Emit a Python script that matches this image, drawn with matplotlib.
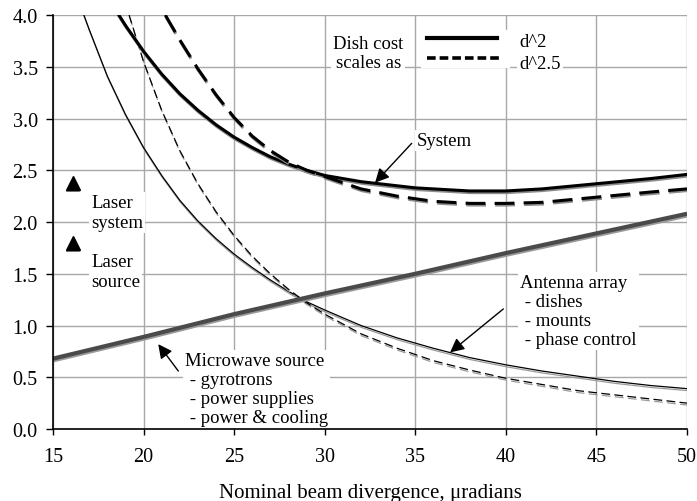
import numpy as np
import matplotlib
matplotlib.use('Agg')
import matplotlib.pyplot as plt
import matplotlib.patheffects as pe

plt.rcParams['font.family'] = ['Liberation Serif', 'DejaVu Serif']
plt.rcParams['font.size'] = 13.5

# ---- data ----
# microwave source cost
mw_x = [15, 20, 25, 30, 35, 40, 45, 50]
mw_y = [0.68, 0.89, 1.11, 1.31, 1.50, 1.70, 1.89, 2.08]

# antenna array, dish cost ~ d^2
ant2_x = [16.6, 17, 18, 19, 20, 21, 22, 23, 24, 25, 26, 27, 28, 29, 30,
          32, 34, 36, 38, 40, 42, 44, 46, 48, 50]
ant2_y = [4.05, 3.86, 3.41, 3.04, 2.72, 2.45, 2.21, 2.01, 1.84, 1.69, 1.56, 1.44, 1.33, 1.23, 1.15,
          1.00, 0.88, 0.78, 0.69, 0.62, 0.56, 0.51, 0.46, 0.42, 0.39]

# antenna array, dish cost ~ d^2.5
ant25_x = [19.2, 20, 21, 22, 23, 24, 25, 26, 27, 28, 29, 30,
           32, 34, 36, 38, 40, 42, 44, 46, 48, 50]
ant25_y = [4.0, 3.55, 3.08, 2.69, 2.37, 2.10, 1.87, 1.67, 1.50, 1.35, 1.22, 1.11,
           0.92, 0.78, 0.66, 0.57, 0.49, 0.43, 0.37, 0.33, 0.29, 0.25]

# system total, d^2
sys2_x = [18.6, 19, 20, 21, 22, 23, 24, 25, 26, 27, 28, 29, 30,
          32, 35, 38, 40, 42, 45, 48, 50]
sys2_y = [4.01, 3.90, 3.65, 3.43, 3.24, 3.08, 2.94, 2.82, 2.72, 2.63, 2.56, 2.50, 2.45,
          2.39, 2.33, 2.30, 2.30, 2.32, 2.37, 2.42, 2.46]

# system total, d^2.5
sys25_x = [21.2, 22, 23, 24, 25, 26, 27, 28, 29, 30,
           32, 34, 36, 38, 40, 42, 45, 48, 50]
sys25_y = [4.0, 3.76, 3.48, 3.23, 3.01, 2.83, 2.69, 2.58, 2.50, 2.44,
           2.32, 2.25, 2.20, 2.18, 2.18, 2.19, 2.24, 2.29, 2.32]

# laser points
laser_x = [16.1, 16.1]
laser_y = [2.38, 1.80]

fig = plt.figure(figsize=(6.97, 5.02), dpi=100)
ax = fig.add_axes([0.076, 0.1434, 0.9097, 0.8247])

def shadow(off=-1.4, col='#8c8c8c'):
    return [pe.SimpleLineShadow(offset=(0.4, off), shadow_color=col, alpha=1.0), pe.Normal()]

# thin antenna curves
ax.plot(ant2_x, ant2_y, color='black', lw=0.9, path_effects=shadow(-1.4, '#9a9a9a'))
ax.plot(ant25_x, ant25_y, color='black', lw=0.9, dashes=(7, 3.5),
        path_effects=shadow(-1.4, '#9a9a9a'))

# microwave source
ax.plot(mw_x, mw_y, color='#4a4a4a', lw=3.0, solid_capstyle='butt',
        path_effects=shadow(-1.2, '#9a9a9a'))

# system curves
ax.plot(sys2_x, sys2_y, color='black', lw=2.2, path_effects=shadow(-1.2))
ax.plot(sys25_x, sys25_y, color='black', lw=2.2, dashes=(6.5, 3),
        path_effects=shadow(-1.2))

# laser markers
ax.plot(laser_x, laser_y, linestyle='none', marker='^', markersize=10, color='black',
        path_effects=[pe.SimplePatchShadow(offset=(0, -1.5), shadow_rgbFace='#8c8c8c', alpha=1.0),
                      pe.Normal()])

ax.set_xlim(15, 50)
ax.set_ylim(0, 4)
ax.set_xticks(np.arange(15, 51, 5))
ax.set_yticks(np.arange(0, 4.01, 0.5))
ax.set_yticklabels(['%.1f' % v for v in np.arange(0, 4.01, 0.5)])
ax.grid(True, color='#a8a8a8', lw=1.0)
ax.set_axisbelow(True)
for s in ['top', 'right']:
    ax.spines[s].set_visible(False)
for s in ['left', 'bottom']:
    ax.spines[s].set_linewidth(1.2)
ax.tick_params(axis='x', direction='out', length=4.3, width=1.0, pad=9, labelsize=14.5)
ax.tick_params(axis='y', direction='out', length=5, width=1.0, pad=6, labelsize=14.5)
ax.set_xlabel('Nominal beam divergence, \u03bcradians', fontsize=15, labelpad=12)

box = dict(facecolor='white', edgecolor='none', pad=1.5)
arrow = dict(arrowstyle='-|>,head_length=0.6,head_width=0.3', color='black', lw=1.0,
             mutation_scale=14, shrinkA=0, shrinkB=0)

# labels
ax.text(17.1, 2.09, 'Laser\nsystem', ha='left', va='center', bbox=box, linespacing=1.2)
ax.text(17.1, 1.52, 'Laser\nsource', ha='left', va='center', bbox=box, linespacing=1.2)

ax.text(35.1, 2.79, 'System', ha='left', va='center', bbox=box)
ax.annotate('', xy=(32.78, 2.38), xytext=(34.8, 2.76), arrowprops=arrow)

ax.text(22.29, 0.39, 'Microwave source\n - gyrotrons\n - power supplies\n - power & cooling',
        ha='left', va='center', bbox=box, linespacing=1.15)
ax.annotate('', xy=(20.81, 0.82), xytext=(21.92, 0.56), arrowprops=arrow)

ax.text(40.79, 1.143, 'Antenna array\n - dishes\n - mounts\n - phase control',
        ha='left', va='center', bbox=box, linespacing=1.15)
ax.annotate('', xy=(36.92, 0.74), xytext=(39.86, 1.16), arrowprops=arrow)

# dish cost legend
ax.text(32.4, 3.635, 'Dish cost\nscales as', ha='center', va='center', bbox=box,
        linespacing=1.15)
ax.fill_between([35.3, 40.2], 3.50, 3.86, color='white', zorder=2)
ax.plot([35.65, 39.5], [3.78, 3.78], color='black', lw=3.0, zorder=3)
ax.plot([35.65, 39.7], [3.58, 3.58], color='black', lw=2.6, dashes=(2.4, 1.1), zorder=3)
ax.text(40.73, 3.74, 'd^2', ha='left', va='center', bbox=box)
ax.text(40.73, 3.53, 'd^2.5', ha='left', va='center', bbox=box)

fig.savefig('out.png', dpi=100)
